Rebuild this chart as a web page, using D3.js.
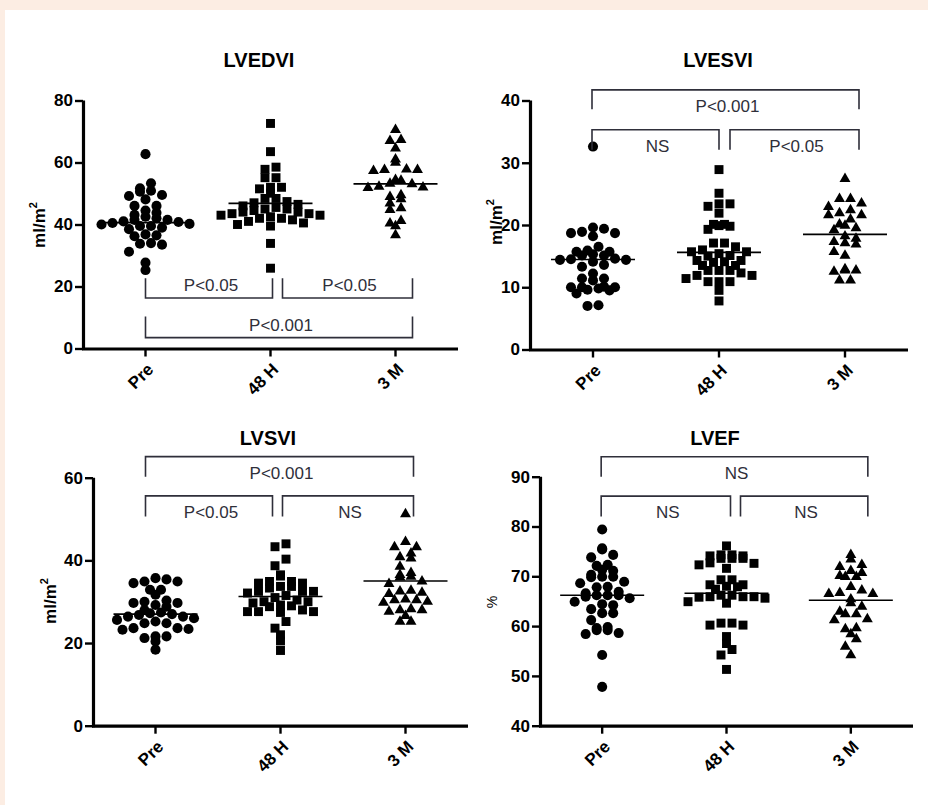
<!DOCTYPE html>
<html>
<head>
<meta charset="utf-8">
<script src="https://cdn.jsdelivr.net/npm/d3@7"></script>
<style>
  html, body { margin: 0; padding: 0; background: #fcede3; }
  svg { display: block; }
  text { font-family: "Liberation Sans", Arial, sans-serif; }
</style>
</head>
<body>
<svg id="chart" width="928" height="805"></svg>
<script>
// ---- data ----
const groups = ["Pre", "48 H", "3 M"];

const lvedviTicks = [0, 20, 40, 60, 80];
const lvedviPre = [62.7, 53.3, 51.7, 50.9, 50.6, 49.5, 49.2, 48.1, 46.0, 46.0, 44.5, 43.8, 43.1, 42.5, 42.0, 41.5, 41.5, 41.0, 40.8, 40.5, 40.2, 40.0, 39.5, 39.5, 39.0, 38.5, 36.8, 36.5, 36.2, 34.0, 33.8, 33.5, 31.2, 27.7, 25.3];
const lvedvi48h = [72.6, 63.5, 58.5, 57.8, 55.1, 55.1, 52.0, 52.0, 51.5, 50.1, 48.4, 48.4, 47.4, 47.0, 46.5, 46.0, 45.5, 45.0, 45.0, 44.5, 44.0, 44.0, 43.5, 43.5, 43.0, 43.0, 42.5, 42.0, 42.0, 41.5, 41.0, 40.5, 40.0, 39.5, 33.9, 25.9];
const lvedvi3m = [70.5, 67.3, 67.0, 64.6, 61.0, 60.0, 57.8, 57.6, 57.6, 57.3, 54.4, 54.2, 53.2, 53.0, 52.2, 52.0, 51.8, 49.5, 48.9, 48.2, 46.8, 45.3, 44.7, 41.2, 40.4, 39.5, 36.6];
const lvedviLine = [40.6, 46.8, 53.1];
const lvedviBrackets = [
  ["Pre", "48 H", 16.3, 22.7, "P<0.05"],
  ["48 H", "3 M", 16.3, 22.7, "P<0.05"],
  ["Pre", "3 M", 3.5, 10.3, "P<0.001"]
];

const lvesviTicks = [0, 10, 20, 30, 40];
const lvesviPre = [32.6, 19.6, 19.4, 18.9, 18.7, 18.7, 18.2, 16.5, 15.9, 15.7, 15.7, 15.3, 15.1, 15.1, 14.6, 14.5, 14.4, 14.4, 14.1, 13.6, 13.3, 12.2, 11.4, 11.4, 11.1, 10.1, 10.0, 10.0, 10.0, 9.8, 9.6, 9.5, 9.0, 7.1, 7.0];
const lvesvi48h = [28.9, 25.1, 23.4, 23.4, 23.0, 21.9, 20.1, 20.1, 19.9, 19.8, 19.3, 17.1, 17.1, 16.5, 16.0, 15.7, 15.7, 15.4, 15.1, 15.0, 14.3, 14.3, 14.1, 14.0, 13.5, 13.5, 12.7, 12.7, 12.7, 12.3, 11.9, 11.9, 11.4, 10.9, 10.9, 10.9, 9.5, 7.8];
const lvesvi3m = [27.4, 24.2, 24.2, 23.5, 22.9, 22.4, 21.9, 21.6, 21.6, 20.9, 20.1, 19.9, 19.5, 19.2, 18.2, 17.8, 17.3, 17.1, 16.9, 15.7, 15.1, 12.9, 12.7, 12.7, 12.5, 11.1, 11.1];
const lvesviLine = [14.45, 15.6, 18.5];
const lvesviBrackets = [
  ["Pre", "3 M", 41.7, 38.6, "P<0.001"],
  ["Pre", "48 H", 35.3, 32.1, "NS"],
  ["48 H", "3 M", 35.3, 32.1, "P<0.05"]
];

const lvsviTicks = [0, 20, 40, 60];
const lvsviPre = [35.7, 35.4, 34.9, 34.9, 34.5, 32.9, 32.9, 31.7, 30.3, 30.0, 29.7, 29.7, 29.2, 28.8, 28.0, 27.4, 27.2, 27.0, 26.8, 26.4, 26.4, 26.0, 25.6, 25.2, 24.8, 24.8, 23.6, 23.6, 23.4, 23.2, 21.6, 21.6, 21.2, 20.4, 18.4];
const lvsvi48h = [44.0, 43.3, 40.3, 38.7, 36.5, 36.2, 34.9, 34.9, 34.5, 34.5, 33.7, 33.7, 33.3, 32.5, 32.5, 32.5, 32.1, 31.5, 31.0, 30.4, 30.0, 30.0, 29.7, 29.2, 29.0, 28.8, 28.0, 27.6, 27.6, 27.6, 27.4, 25.2, 23.6, 22.0, 20.5, 18.2];
const lvsvi3m = [51.2, 44.5, 43.2, 43.2, 41.7, 40.8, 40.5, 38.5, 37.0, 36.5, 36.1, 35.9, 34.9, 34.3, 32.7, 32.5, 32.2, 31.9, 30.6, 30.4, 30.4, 30.0, 29.8, 28.2, 28.0, 28.0, 27.6, 26.6, 25.2, 25.2];
const lvsviLine = [27.0, 31.25, 35.0];
const lvsviBrackets = [
  ["Pre", "3 M", 65.1, 60.2, "P<0.001"],
  ["Pre", "48 H", 55.6, 50.6, "P<0.05"],
  ["48 H", "3 M", 55.6, 50.6, "NS"]
];

const lvefTicks = [40, 50, 60, 70, 80, 90];
const lvefPre = [79.4, 75.6, 75.4, 74.3, 73.8, 72.3, 72.1, 71.3, 71.1, 70.3, 69.9, 69.9, 69.8, 68.9, 68.6, 67.9, 67.8, 66.9, 66.6, 66.2, 66.2, 66.2, 65.9, 65.6, 64.9, 64.4, 64.2, 63.4, 62.6, 62.6, 61.2, 59.8, 59.6, 59.2, 59.2, 58.6, 58.4, 54.2, 47.8];
const lvef48h = [76.1, 74.3, 74.3, 74.1, 74.1, 73.6, 73.6, 73.6, 72.7, 72.6, 72.3, 71.6, 69.3, 69.3, 68.3, 68.3, 68.0, 67.9, 67.4, 66.2, 66.2, 65.9, 65.9, 65.9, 65.8, 65.6, 64.9, 64.6, 60.6, 60.6, 60.2, 60.2, 57.9, 56.5, 55.3, 54.2, 51.3];
const lvef3m = [74.3, 73.4, 72.3, 71.9, 71.1, 70.7, 70.1, 69.9, 69.9, 67.9, 67.2, 66.7, 66.5, 66.5, 65.4, 64.6, 63.9, 62.9, 62.4, 62.4, 61.4, 61.2, 59.6, 59.4, 58.4, 57.4, 55.9, 54.2];
const lvefLine = [66.2, 66.6, 65.2];
const lvefBrackets = [
  ["Pre", "3 M", 94.0, 90.0, "NS"],
  ["Pre", "48 H", 86.1, 82.0, "NS"],
  ["48 H", "3 M", 86.1, 82.0, "NS"]
];

// ---- layout ----
const panels = [
  { title: "LVEDVI", unit: "ml/m", sup: "2", ticks: lvedviTicks, series: [lvedviPre, lvedvi48h, lvedvi3m],
    line: lvedviLine, brackets: lvedviBrackets, nudge: [[0, 2], [12, 17], [0, 17]],
    x0: 83, x1: 458, yBottom: 348.5, yTop: 100.5, titleX: 259, titleY: 67, labelX: 45, labelY: 225 },
  { title: "LVESVI", unit: "ml/m", sup: "2", ticks: lvesviTicks, series: [lvesviPre, lvesvi48h, lvesvi3m],
    line: lvesviLine, brackets: lvesviBrackets, nudge: [[-1, 14], [-1, 0], [11, 14]],
    x0: 530, x1: 908, yBottom: 349.5, yTop: 100.5, titleX: 718, titleY: 67, labelX: 502, labelY: 222 },
  { title: "LVSVI", unit: "ml/m", sup: "2", ticks: lvsviTicks, series: [lvsviPre, lvsvi48h, lvsvi3m],
    line: lvsviLine, brackets: lvsviBrackets, nudge: [[-10, 8], [-10, -8], [2, 8]],
    x0: 93, x1: 468, yBottom: 725.7, yTop: 477.7, titleX: 268, titleY: 445, labelX: 56, labelY: 601 },
  { title: "LVEF", unit: "%", sup: "", ticks: lvefTicks, series: [lvefPre, lvef48h, lvef3m],
    line: lvefLine, brackets: lvefBrackets, nudge: [[-1, 17], [-1, 4], [14, 17]],
    x0: 540, x1: 913, yBottom: 725.7, yTop: 476.7, titleX: 715, titleY: 445, labelX: 497, labelY: 602, plainLabel: true }
];

const symbols = [d3.symbolCircle, d3.symbolSquare, d3.symbolTriangle];
const symbolSizes = [80, 80, 52];
const colStep = 11;      // horizontal spacing between neighbouring points in a row
const rowHeight = 9;     // height of the horizontal bins that share a row
const halfLine = 42;     // half-width of the central line
const bracketColor = "#2f2f3a";

const svg = d3.select("#chart");

// white plotting sheet on top of the tinted page
svg.append("rect").attr("x", 5).attr("y", 10).attr("width", 923).attr("height", 795).attr("fill", "#ffffff");

// scatter-dot layout: values falling in the same horizontal bin are spread side by side
function scatterRows(values, cx, y) {
  const rows = d3.group(values.map((v, i) => ({ v, i, py: y(v) })), d => Math.floor(d.py / rowHeight));
  const out = new Array(values.length);
  rows.forEach(members => {
    members.sort((a, b) => b.v - a.v);
    const n = members.length;
    members.forEach((m, k) => {
      const slot = n % 2 ? (k === 0 ? 0 : (k % 2 ? (k + 1) / 2 : -k / 2))
                         : (k % 2 ? -(k + 1) / 2 + 0.5 : k / 2 + 0.5);
      out[m.i] = { x: cx + slot * colStep, y: m.py };
    });
  });
  return out;
}

panels.forEach(p => {
  const g = svg.append("g");
  const x = d3.scaleBand().domain(groups).range([p.x0, p.x1]).padding(0);
  const cx = name => x(name) + x.bandwidth() / 2;
  const y = d3.scaleLinear().domain([p.ticks[0], p.ticks[p.ticks.length - 1]]).range([p.yBottom, p.yTop]);

  // title
  g.append("text").attr("x", p.titleX).attr("y", p.titleY).attr("text-anchor", "middle")
    .attr("font-size", 20).attr("font-weight", "bold").attr("fill", "#000").text(p.title);

  // y axis
  const yAxis = d3.axisLeft(y).tickValues(p.ticks).tickSize(8).tickPadding(2).tickFormat(d3.format("d"));
  const ya = g.append("g").attr("transform", `translate(${p.x0},0)`).call(yAxis);
  ya.select(".domain").attr("stroke", "#000").attr("stroke-width", 3.2)
    .attr("d", `M0.5,${p.yTop}V${p.yBottom + 1.6}`);
  ya.selectAll(".tick line").attr("stroke", "#000").attr("stroke-width", 2.4);
  ya.selectAll(".tick text").attr("font-size", 17).attr("font-weight", "bold").attr("fill", "#000")
    .attr("font-family", "'Liberation Sans', Arial, sans-serif");

  // x axis
  const xAxis = d3.axisBottom(x).tickSize(8).tickPadding(0);
  const xa = g.append("g").attr("transform", `translate(0,${p.yBottom})`).call(xAxis);
  xa.select(".domain").attr("stroke", "#000").attr("stroke-width", 3.2)
    .attr("d", `M${p.x0 - 1},0.5H${p.x1}`);
  xa.selectAll(".tick line").attr("stroke", "#000").attr("stroke-width", 2.4);
  xa.selectAll(".tick text")
    .attr("font-size", 17).attr("font-weight", "bold").attr("fill", "#000")
    .attr("font-family", "'Liberation Sans', Arial, sans-serif")
    .attr("text-anchor", "end").attr("dy", null).attr("y", null)
    .attr("transform", "translate(9,22) rotate(-45)");

  // y axis label
  const lab = g.append("text")
    .attr("transform", `translate(${p.labelX},${p.labelY}) rotate(-90)`)
    .attr("text-anchor", "middle").attr("fill", "#000")
    .attr("font-size", p.plainLabel ? 14 : 17).attr("font-weight", p.plainLabel ? "normal" : "bold");
  lab.append("tspan").text(p.unit);
  if (p.sup) lab.append("tspan").attr("font-size", 11).attr("dy", -8).text(p.sup);

  // points
  p.series.forEach((vals, gi) => {
    const pts = scatterRows(vals, cx(groups[gi]), y);
    g.append("g").selectAll("path").data(pts).join("path")
      .attr("transform", d => `translate(${d.x},${d.y})`)
      .attr("d", d3.symbol().type(symbols[gi]).size(symbolSizes[gi]))
      .attr("fill", "#000");
  });

  // central lines
  g.append("g").selectAll("line").data(p.line).join("line")
    .attr("x1", (d, i) => cx(groups[i]) - halfLine).attr("x2", (d, i) => cx(groups[i]) + halfLine)
    .attr("y1", d => y(d)).attr("y2", d => y(d))
    .attr("stroke", "#000").attr("stroke-width", 1.6);

  // significance brackets
  p.brackets.forEach((b, bi) => {
    const xa0 = cx(b[0]) + p.nudge[bi][0];
    const xa1 = cx(b[1]) + p.nudge[bi][1];
    const yl = y(b[2]), yg = y(b[3]);
    g.append("path").attr("d", `M${xa0},${yg}V${yl}H${xa1}V${yg}`)
      .attr("fill", "none").attr("stroke", bracketColor).attr("stroke-width", 1.6);
    const opensDown = yg > yl;
    g.append("text").attr("x", (xa0 + xa1) / 2 + 2)
      .attr("y", opensDown ? yl + 22 : yl - 7)
      .attr("text-anchor", "middle").attr("font-size", 17).attr("fill", bracketColor).text(b[4]);
  });
});
</script>
</body>
</html>
